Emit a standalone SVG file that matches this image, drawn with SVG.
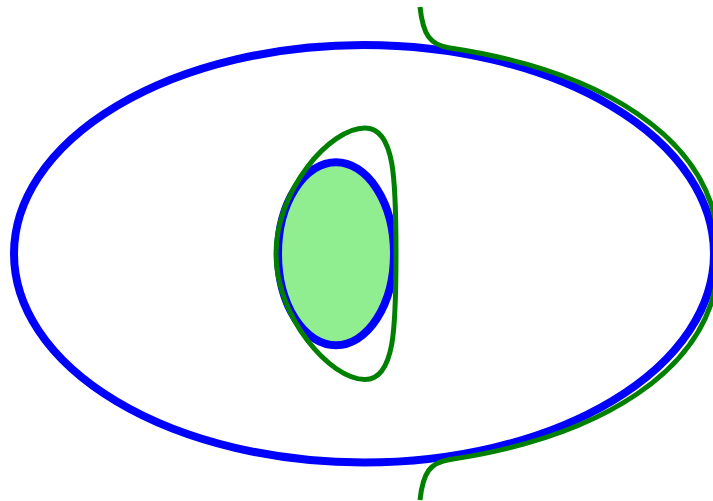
<svg xmlns="http://www.w3.org/2000/svg" width="713" height="501" viewBox="0 0 713 501">
<style>
.blue{fill:none;stroke:#0000ff;stroke-width:8}
.green{fill:none;stroke:#008000;stroke-width:5}
</style>
<rect width="713" height="501" fill="#ffffff"/>
<ellipse class="blue" cx="364" cy="253.75" rx="350" ry="208.75"/>
<ellipse class="blue" cx="336" cy="253.75" rx="58" ry="91.5" style="fill:#90ee90"/>
<path class="green" d="M 396 253.75 C 396 180, 395 128, 365 128 C 330 128, 276 190, 276 253.75 C 276 317, 330 379.5, 365 379.5 C 395 379.5, 396 327, 396 253.75 Z"/>
<path class="green" d="M 420 7 C 423 35, 430 45, 450 48 C 590 69, 719 133, 719 253.75 C 719 374.5, 590 438.5, 450 459.5 C 430 462.5, 423 472.5, 420 500"/>
</svg>
